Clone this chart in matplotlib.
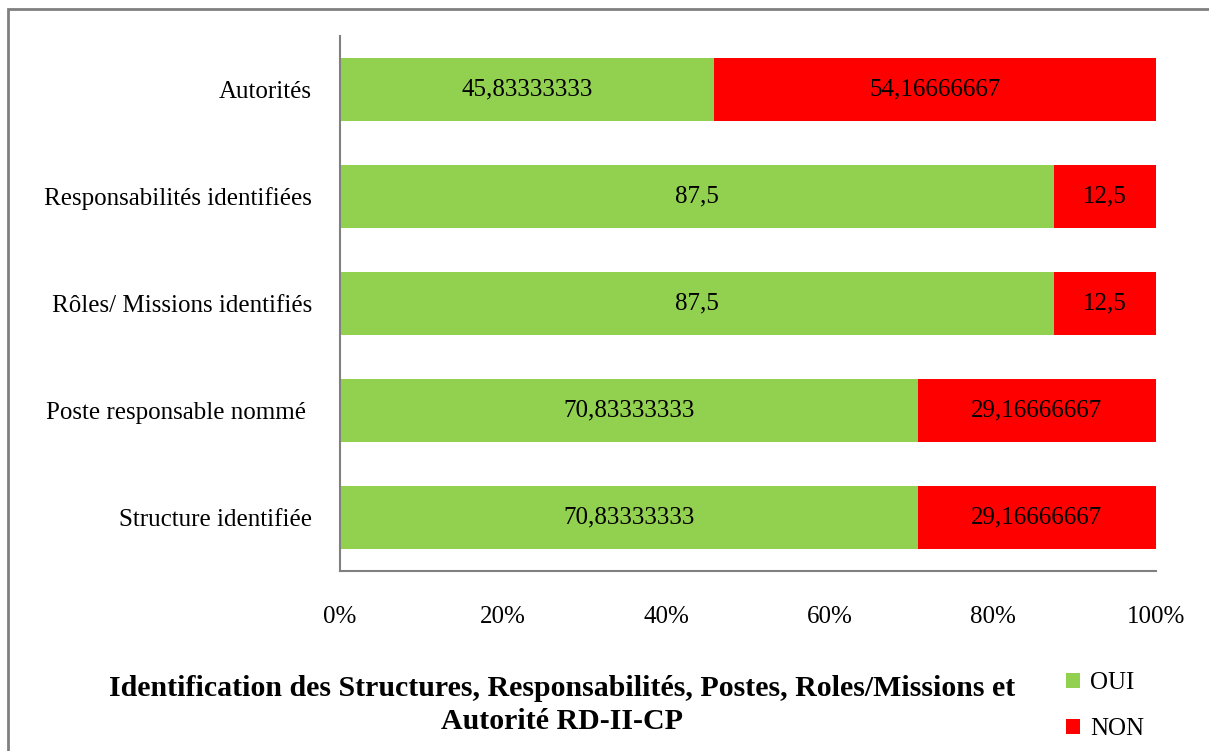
import matplotlib.pyplot as plt
from matplotlib.patches import Rectangle

categories = [
    "Structure identifiée",
    "Poste responsable nommé ",
    "Rôles/ Missions identifiés",
    "Responsabilités identifiées",
    "Autorités",
]
oui = [70.83333333, 70.83333333, 87.5, 87.5, 45.83333333]
non = [29.16666667, 29.16666667, 12.5, 12.5, 54.16666667]
xticks = [0, 20, 40, 60, 80, 100]

GREEN = "#92d050"
RED = "#ff0000"

plt.rcParams["font.family"] = ["Liberation Serif", "DejaVu Serif"]

fig = plt.figure(figsize=(12.09, 7.51), dpi=100)
ax = fig.add_axes([340 / 1209, 1 - 571 / 751, 816 / 1209, 535 / 751])

# outer chart border
fig.patches.append(Rectangle((8 / 1209, -0.05), 1.1, 1 - 9 / 751 + 0.05,
                             transform=fig.transFigure, fill=False,
                             edgecolor="#808080", linewidth=2))

ypos = range(len(categories))
b1 = ax.barh(ypos, oui, height=0.58, color=GREEN, label="OUI")
b2 = ax.barh(ypos, non, left=oui, height=0.58, color=RED, label="NON")


def fmt(v):
    return ("%.10g" % v).replace(".", ",")


for bars, vals in ((b1, oui), (b2, non)):
    ax.bar_label(bars, labels=[fmt(v) for v in vals], label_type="center",
                 fontsize=18, color="black")

ax.set_xlim(0, 100)
ax.set_ylim(-0.5, len(categories) - 0.5)
ax.set_yticks(list(ypos))
ax.set_yticklabels(categories, fontsize=18)
ax.set_xticks(xticks)
ax.set_xticklabels([f"{t}%" for t in xticks], fontsize=18)
ax.tick_params(axis="both", length=0)
ax.tick_params(axis="x", pad=25)
ax.tick_params(axis="y", pad=20)

for s in ("top", "right"):
    ax.spines[s].set_visible(False)
for s in ("left", "bottom"):
    ax.spines[s].set_color("#808080")
    ax.spines[s].set_linewidth(1.5)

fig.text(562 / 1209, 1 - 705 / 751,
         "Identification des Structures, Responsabilités, Postes, Roles/Missions et\nAutorité RD-II-CP",
         ha="center", va="center", fontsize=21.5, fontweight="bold", linespacing=1.28)

fig.legend(handles=[b1, b2], labels=["OUI", "NON"], loc="center left",
           bbox_to_anchor=(1056 / 1209, 1 - 706 / 751), frameon=False,
           fontsize=18, handlelength=0.55, handleheight=0.55, labelspacing=0.95,
           handletextpad=0.4, borderaxespad=0)

fig.savefig("out.png", dpi=100)
